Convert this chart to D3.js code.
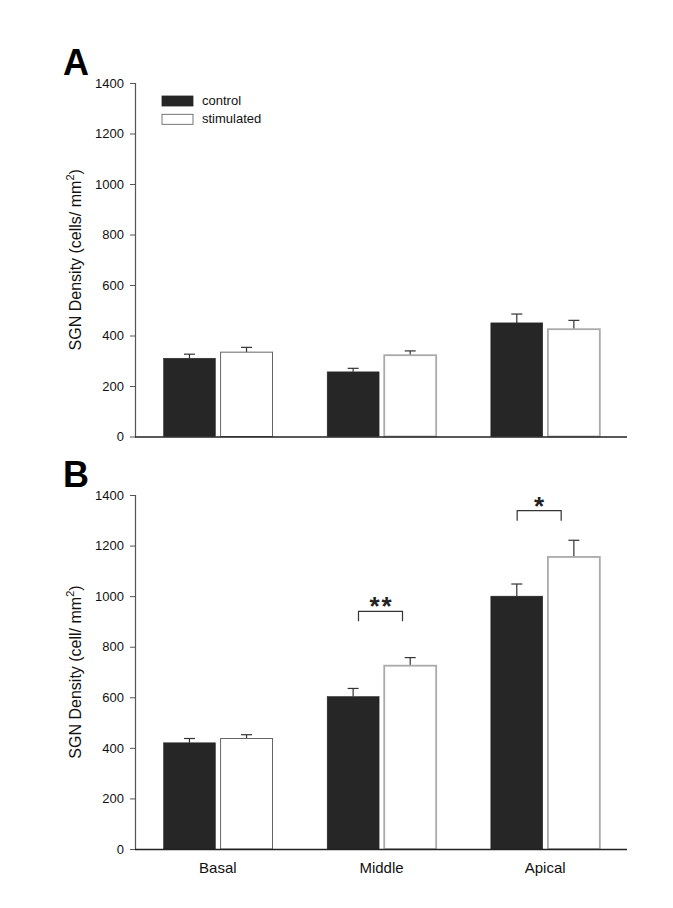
<!DOCTYPE html>
<html><head><meta charset="utf-8">
<script src="https://cdn.jsdelivr.net/npm/d3@7"></script>
<style>body{margin:0;background:#fff}svg{display:block;font-family:"Liberation Sans",Arial,sans-serif}</style>
</head><body>
<script>
const categories = ["Basal", "Middle", "Apical"];
const seriesNames = ["control", "stimulated"];
const yTicks = [0, 200, 400, 600, 800, 1000, 1200, 1400];

const aControl = [310, 256, 450];
const aControlErr = [16, 14, 35];
const aStim = [334, 322, 425];
const aStimErr = [19, 17, 35];

const bControl = [420, 603, 1000];
const bControlErr = [17, 32, 48];
const bStim = [437, 725, 1155];
const bStimErr = [15, 32, 66];

const sigCats = ["Middle", "Apical"];
const sigLevels = [940, 1338];
const sigLabels = ["**", "*"];

const W = 673, H = 908;
const svg = d3.select("body").append("svg").attr("width", W).attr("height", H);

const x0 = d3.scaleBand().domain(categories).range([136, 627]).paddingInner(0).paddingOuter(0);
const x1 = d3.scaleBand().domain(seriesNames).range([27.5, 136.5]).paddingInner(0.09);

function panel(letter, top, bottom, ctl, ctlErr, stim, stimErr, title, showX, sig) {
  const y = d3.scaleLinear().domain([0, 1400]).range([bottom, top]);
  const g = svg.append("g");
  const rows = categories.map((c, i) => [
    {cat: c, s: "control", v: ctl[i], e: ctlErr[i], i},
    {cat: c, s: "stimulated", v: stim[i], e: stimErr[i], i}
  ]).flat();

  rows.forEach(d => {
    const cx = x0(d.cat) + x1(d.s) + x1.bandwidth() / 2;
    g.append("line").attr("x1", cx).attr("x2", cx).attr("y1", y(d.v)).attr("y2", y(d.v + d.e))
      .attr("stroke", "#333").attr("stroke-width", 1.2);
    g.append("line").attr("x1", cx - 5.5).attr("x2", cx + 5.5).attr("y1", y(d.v + d.e)).attr("y2", y(d.v + d.e))
      .attr("stroke", "#333").attr("stroke-width", 1.2);
  });

  g.selectAll("rect.bar").data(rows).enter().append("rect")
    .attr("x", d => x0(d.cat) + x1(d.s))
    .attr("y", d => y(d.v))
    .attr("width", x1.bandwidth())
    .attr("height", d => y(0) - y(d.v))
    .attr("fill", d => d.s === "control" ? "#262626" : "#fff")
    .attr("stroke", d => d.s === "control" ? "#262626" : (d.i === 0 ? "#666" : "#aaa"))
    .attr("stroke-width", d => d.s === "control" ? 0.5 : (d.i === 0 ? 1 : 1.8));

  const ya = d3.axisLeft(y).tickValues(yTicks).tickSize(6).tickPadding(6).tickFormat(d3.format("d"));
  const yg = g.append("g").attr("transform", "translate(136,0)").call(ya);
  yg.select(".domain").attr("stroke", "#555").attr("stroke-width", 1.2).attr("d", `M-0.5,${top}V${bottom}`);
  yg.selectAll(".tick line").attr("stroke", "#555");
  yg.selectAll(".tick text").attr("font-size", 13).attr("fill", "#111").attr("font-family", "Liberation Sans, Arial, sans-serif");

  g.append("line").attr("x1", 135).attr("x2", 627).attr("y1", bottom + 0.5).attr("y2", bottom + 0.5)
    .attr("stroke", "#222").attr("stroke-width", 1.3);
  if (showX) {
    categories.forEach(c => {
      g.append("text").attr("x", x0(c) + x0.bandwidth() / 2).attr("y", bottom + 24)
        .attr("text-anchor", "middle").attr("font-size", 15).attr("fill", "#111").text(c);
    });
  }

  const t = g.append("text").attr("transform", `translate(81,${(top + bottom) / 2}) rotate(-90)`)
    .attr("text-anchor", "middle").attr("font-size", 16).attr("fill", "#111");
  t.append("tspan").text(title);
  t.append("tspan").attr("dy", -7).attr("font-size", 11).text("2");
  t.append("tspan").attr("dy", 7).text(")");

  g.append("text").attr("x", 63).attr("y", top - 8).attr("font-size", 36).attr("font-weight", "bold")
    .attr("fill", "#000").text(letter);

  if (sig) {
    const offs = [-1, -6];
    sigCats.forEach((c, i) => {
      const cx = x0(c) + x0.bandwidth() / 2 + offs[i];
      const yy = y(sigLevels[i]);
      g.append("path").attr("d", `M${cx - 22},${yy + 10}V${yy}H${cx + 22}V${yy + 10}`)
        .attr("fill", "none").attr("stroke", "#333").attr("stroke-width", 1.2);
      g.append("text").attr("x", cx + 1).attr("y", yy + 4).attr("text-anchor", "middle")
        .attr("font-size", 26).attr("font-weight", "bold").attr("letter-spacing", 2).attr("fill", "#222")
        .text(sigLabels[i]);
    });
  }
  return y;
}

panel("A", 83, 436.5, aControl, aControlErr, aStim, aStimErr, "SGN Density (cells/ mm", false, false);
panel("B", 495, 849, bControl, bControlErr, bStim, bStimErr, "SGN Density (cell/ mm", true, true);

const lg = svg.append("g");
seriesNames.forEach((s, i) => {
  lg.append("rect").attr("x", 162).attr("y", 96 + i * 18.3).attr("width", 31).attr("height", 10)
    .attr("fill", i === 0 ? "#262626" : "#fff").attr("stroke", i === 0 ? "#262626" : "#555").attr("stroke-width", 0.8);
  lg.append("text").attr("x", 202).attr("y", 105 + i * 18.3).attr("font-size", 13).attr("fill", "#111").text(s);
});
</script>
</body></html>
